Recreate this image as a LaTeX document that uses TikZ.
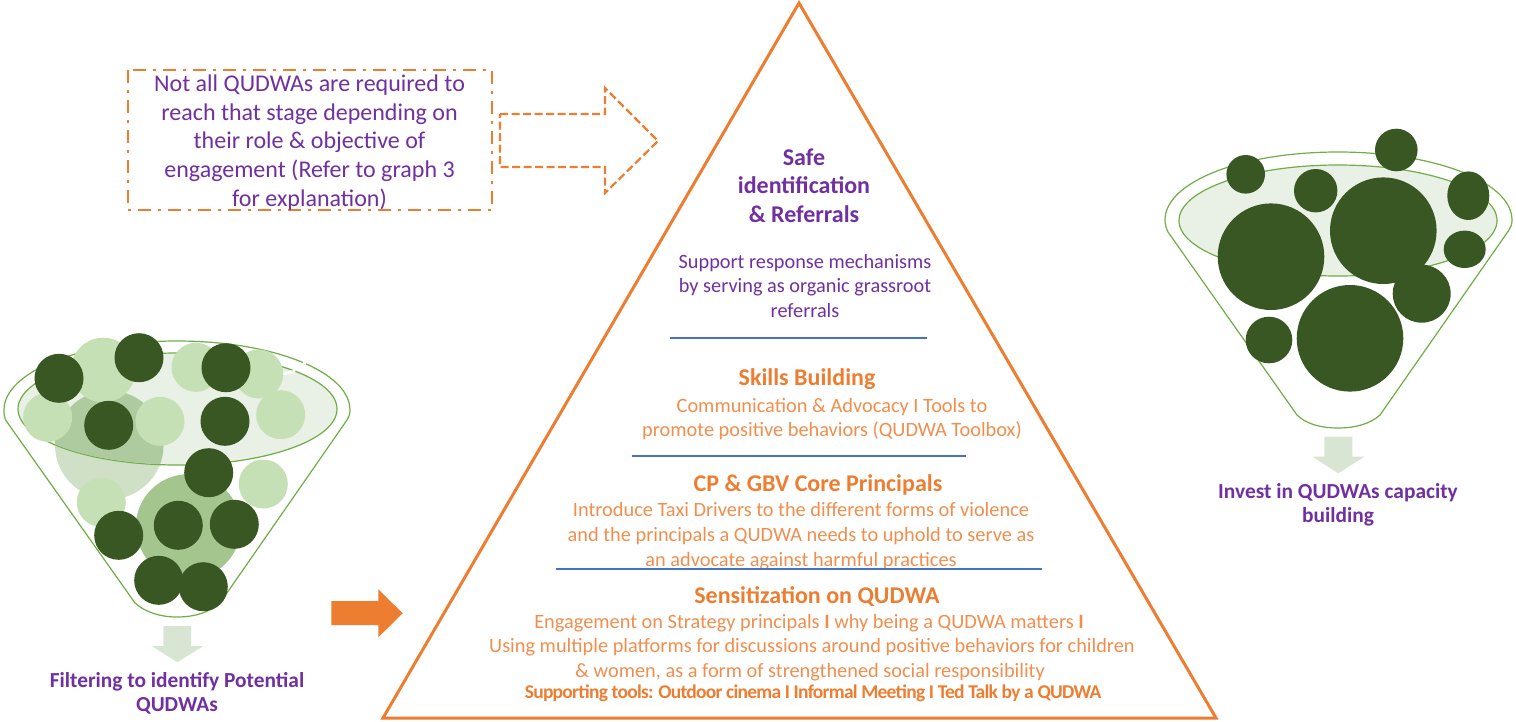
\documentclass[tikz,border=0pt]{standalone}
\usepackage{fontspec}
\setmainfont{Carlito}
\definecolor{orng}{HTML}{ED7D31}
\definecolor{lorng}{HTML}{F08E4E}
\definecolor{purp}{HTML}{7030A0}
\definecolor{dgreen}{HTML}{385723}
\definecolor{lgreen}{HTML}{C5E0B4}
\definecolor{fgreen}{HTML}{70AD47}
\definecolor{ellfill}{HTML}{E9F0E5}
\definecolor{arrfill}{HTML}{D9E5D3}
\definecolor{bluel}{HTML}{4472C4}
\tikzset{
  x=1pt,y=-1pt,
  ftxt/.style={inner sep=0pt,align=center,anchor=center},
  box20/.style={ftxt,text=purp,font=\fontsize{24}{28.8}\selectfont},
  pur19/.style={ftxt,text=purp,font=\fontsize{20.3}{24.6}\selectfont},
  pur22b/.style={ftxt,text=purp,font=\fontsize{24}{28.7}\selectfont\bfseries},
  pur19b/.style={ftxt,text=purp,font=\fontsize{21.4}{24}\selectfont\bfseries},
  org22b/.style={ftxt,text=orng,font=\fontsize{24}{26}\selectfont\bfseries},
  org19/.style={ftxt,text=lorng,font=\fontsize{20.35}{24.8}\selectfont},
  funnel/.style={draw=fgreen,line width=1.2pt},
  downarr/.style={fill=arrfill,draw=none},
  sep/.style={draw=bluel,line width=1.2pt},
}
\begin{document}
\begin{tikzpicture}
\useasboundingbox (0,0) rectangle (1516,721);
% ---------- left funnel
\path[funnel,fill=white] (7,422) .. controls (4,418) and (4,414) .. (4,410)
  .. controls (4,372) and (80,341) .. (177,341)
  .. controls (274,341) and (350,372) .. (350,410)
  .. controls (350,414) and (349,417) .. (347,420)
  -- (220,603) .. controls (210,612) and (195,617) .. (177,617)
  .. controls (160,617) and (145,612) .. (135,603) -- cycle;
\fill[fill=white] (109.3,445) circle (55.5);
\fill[fill={rgb,255:red,207;green,224;blue,198}] (109.3,445) circle (54.3);
\path[funnel,fill=ellfill] (177.5,409) ellipse [x radius=159.5,y radius=56];
\begin{scope}
  \clip (177.5,409) ellipse [x radius=159,y radius=55.5];
  \fill[fill={rgb,255:red,174;green,203;blue,160}] (109.3,445) circle (54.3);
\end{scope}
\draw[white,line width=2pt] (303,362.5) -- (306,363.5);
\draw[white,line width=2.5pt] (283,374) -- (295,371);
\fill[fill={rgb,255:red,165;green,197;blue,143}] (188.3,526.7) circle (52.5);
\fill[lgreen] (103.3,370) circle (32.3);
\foreach \cx/\cy in {47.7/417.3,196/367.3,258.7/374,160/421.3,280.7/414.7,263.3/484,101.3/502.3}
  \fill[lgreen] (\cx,\cy) circle (24.5);
\foreach \cx/\cy in {59/378.3,139/357.7,226/367.7,108.7/425.3,225/421.3,208.7/472.7,178.3/525.3,234.3/524.3,118.7/535.3,158.7/580.3,203.3/586.7}
  \fill[dgreen] (\cx,\cy) circle (24.5);
\path[downarr] (163.3,626) -- (191,626) -- (191,646) -- (203.3,646) -- (177.3,662.3) -- (151.7,646) -- (163.3,646) -- cycle;
\node[pur19b] (filt) at (177,693.5) {Filtering to identify Potential\\QUDWAs};
% ---------- right funnel
\path[funnel] (1168,232) .. controls (1166,228) and (1165,224) .. (1165,220)
  .. controls (1165,182) and (1241,152) .. (1338,152)
  .. controls (1435,152) and (1512,182) .. (1512,220)
  .. controls (1512,224) and (1511,227) .. (1509,230)
  -- (1380,415) .. controls (1370,424) and (1355,428) .. (1338,428)
  .. controls (1321,428) and (1306,424) .. (1297,415) -- cycle;
\path[funnel,fill=ellfill] (1338,220.5) ellipse [x radius=159,y radius=55.5];
\foreach \cx/\cy/\r in {1245.7/174.3/19.3,1396.3/150/21.3,1315.7/190.7/21.7,1383.3/230.7/53.3,1271/256.7/53.3,1421.7/293.7/29,1269/340/23.3,1350/338.3/53.3}
  \fill[dgreen] (\cx,\cy) circle (\r);
\fill[dgreen] (1468.3,195.7) ellipse [x radius=21,y radius=24.3];
\fill[dgreen] (1464.7,249.3) ellipse [x radius=21,y radius=18.7];
\path[downarr] (1324.3,436.7) -- (1352.3,436.7) -- (1352.3,456.7) -- (1364.3,456.7) -- (1338.3,473.3) -- (1312.3,456.7) -- (1324.3,456.7) -- cycle;
\node[pur19b] (inv) at (1338,504.5) {Invest in QUDWAs capacity\\building};
% ---------- orange block arrow
\fill[orng] (331.3,601) -- (378.3,601) -- (378.3,589.3) -- (402.7,613.3) -- (378.3,637.3) -- (378.3,625) -- (331.3,625) -- cycle;
% ---------- dash-dot note and dashed arrow
\draw[orng,line width=2.4pt,dash pattern=on 13pt off 7pt on 3pt off 7pt] (128,70) rectangle (492,210);
\node[box20] (note) at (309.5,142.5) {Not all QUDWAs are required to\\reach that stage depending on\\their role \& objective of\\engagement (Refer to graph 3\\for explanation)};
\draw[orng,line width=2.2pt,dash pattern=on 8pt off 3.5pt] (500,114) -- (605,114) -- (605,88) -- (658,141) -- (605,193) -- (605,167) -- (500,167) -- cycle;
% ---------- pyramid
\draw[orng,line width=3pt,line join=miter] (799,3) -- (1216,718) -- (383,718) -- cycle;
\node[pur22b] (safe) at (804,185.5) {Safe\\identification\\\& Referrals};
\node[pur19] (supp) at (805,286) {Support response mechanisms\\by serving as organic grassroot\\referrals};
\draw[sep] (670,338) -- (927,338);
\node[org22b] (skills) at (807,379) {Skills Building};
\node[org19] (comm) at (832,419) {Communication \& Advocacy I Tools to\\promote positive behaviors (QUDWA Toolbox)};
\draw[sep] (632,456) -- (966,456);
\node[org22b] (cp) at (818,485) {CP \& GBV Core Principals};
\node[org19] (intro) at (801,536) {Introduce Taxi Drivers to the different forms of violence\\and the principals a QUDWA needs to uphold to serve as\\an advocate against harmful practices};
\draw[sep] (556,569) -- (1042,569);
\node[org22b] (sens) at (817,597) {Sensitization on QUDWA};
\node[org19] (eng1) at (809,623) {Engagement on Strategy principals {\bfseries I} why being a QUDWA matters {\bfseries I}};
\node[org19] (eng2) at (812,647.5) {Using multiple platforms for discussions around positive behaviors for children};
\node[org19] (eng3) at (810,672) {\& women, as a form of strengthened social responsibility};
\node[ftxt,text=orng,font=\fontsize{19.5}{20}\selectfont\bfseries\addfontfeature{LetterSpace=-3.8}] (tools) at (813,693.5) {Supporting tools: Outdoor cinema I Informal Meeting I Ted Talk by a QUDWA};
\end{tikzpicture}
\end{document}
